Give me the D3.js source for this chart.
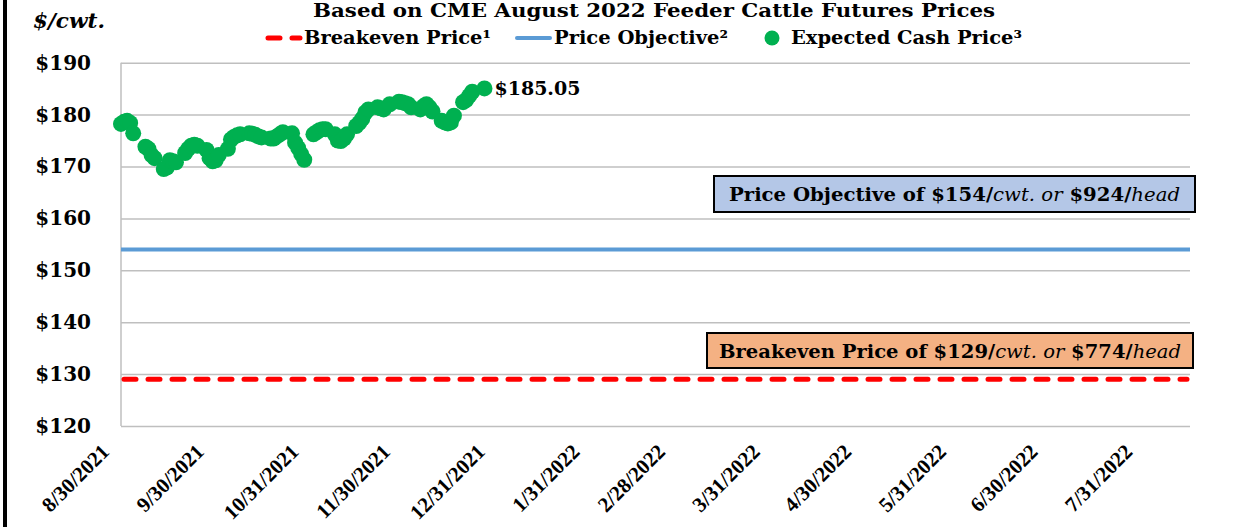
<!DOCTYPE html>
<html lang="en">
<head>
<meta charset="UTF-8">
<title>Feeder Cattle Price Chart</title>
<script src="https://d3js.org/d3.v7.min.js"></script>
<style>
  body { margin: 0; background: #fff; }
  svg { display: block; }
  text { font-family: "DejaVu Serif", serif; fill: #000; }
</style>
</head>
<body>
<div id="chart"></div>
<script>
// expected cash price, $/cwt, per trading day
const dates = [
  "2021-08-30","2021-08-31","2021-09-01","2021-09-02","2021-09-03",
  "2021-09-07","2021-09-08","2021-09-09","2021-09-10",
  "2021-09-13","2021-09-14","2021-09-15","2021-09-16","2021-09-17",
  "2021-09-20","2021-09-21","2021-09-22","2021-09-23","2021-09-24",
  "2021-09-27","2021-09-28","2021-09-29","2021-09-30","2021-10-01",
  "2021-10-04","2021-10-05","2021-10-06","2021-10-07","2021-10-08",
  "2021-10-11","2021-10-12","2021-10-13","2021-10-14","2021-10-15",
  "2021-10-18","2021-10-19","2021-10-20","2021-10-21","2021-10-22",
  "2021-10-25","2021-10-26","2021-10-27","2021-10-28","2021-10-29",
  "2021-11-01","2021-11-02","2021-11-03","2021-11-04","2021-11-05",
  "2021-11-08","2021-11-09","2021-11-10","2021-11-11","2021-11-12",
  "2021-11-15","2021-11-16","2021-11-17","2021-11-18","2021-11-19",
  "2021-11-22","2021-11-23","2021-11-24","2021-11-26",
  "2021-11-29","2021-11-30","2021-12-01","2021-12-02","2021-12-03",
  "2021-12-06","2021-12-07","2021-12-08","2021-12-09","2021-12-10",
  "2021-12-13","2021-12-14","2021-12-15","2021-12-16","2021-12-17",
  "2021-12-20","2021-12-21","2021-12-22","2021-12-23",
  "2021-12-27"
];
const cashPrice = [
  178.2, 178.6, 178.8, 178.4, 176.4,
  173.8, 173.4, 172.2, 171.6,
  169.5, 169.8, 171.2, 171.0, 170.8,
  172.6, 173.4, 174.0, 174.2, 174.0,
  173.2, 171.6, 171.0, 171.2, 172.2,
  173.4, 175.2, 175.7, 176.0, 176.2,
  176.4, 176.3, 176.1, 175.8, 175.6,
  175.4, 175.4, 175.8, 176.2, 176.6,
  176.4, 174.6, 173.6, 172.4, 171.3,
  176.2, 176.6, 177.0, 177.2, 177.2,
  176.2, 175.0, 174.9, 175.4, 176.2,
  177.8, 178.4, 179.2, 180.4, 181.0,
  181.4, 181.2, 181.0, 182.0,
  182.5, 182.4, 182.2, 182.0, 181.4,
  181.0, 181.6, 182.0, 181.4, 180.6,
  178.8, 178.5, 178.3, 178.5, 179.8,
  182.4, 182.8, 183.6, 184.4,
  185.05
];
const breakevenPrice = 129;
const priceObjective = 154;
const yTicks = [120, 130, 140, 150, 160, 170, 180, 190];
const xTickDates = [
  "2021-08-30","2021-09-30","2021-10-31","2021-11-30","2021-12-31",
  "2022-01-31","2022-02-28","2022-03-31","2022-04-30","2022-05-31",
  "2022-06-30","2022-07-31"
];
const xDomain = ["2021-08-30", "2022-08-15"];

const W = 1243, H = 527;
const plotL = 121, plotR = 1190, plotT = 62.7, plotB = 426;

const parse = d3.timeParse("%Y-%m-%d");
const fmt = d3.timeFormat("%-m/%-d/%Y");
const data = dates.map((d, i) => ({ date: parse(d), value: cashPrice[i] }));

const svg = d3.select("#chart").append("svg")
  .attr("width", W).attr("height", H);

const x = d3.scaleTime().domain(xDomain.map(parse)).range([plotL, plotR]);
const y = d3.scaleLinear().domain([120, 190]).range([plotB, plotT]);

// fit a text element to a measured width
function fit(sel, w) {
  sel.attr("textLength", w).attr("lengthAdjust", "spacingAndGlyphs");
}

// frame edge on the left
svg.append("rect").attr("x", 3).attr("y", 0).attr("width", 4).attr("height", H).attr("fill", "#000");

// y axis + grid
const yAxis = svg.append("g")
  .attr("transform", `translate(${plotL},0)`)
  .call(d3.axisLeft(y).tickValues(yTicks).tickSize(-(plotR - plotL)).tickPadding(30).tickFormat(d => "$" + d));
yAxis.select(".domain").remove();
yAxis.selectAll("line").attr("stroke", "#bfbfbf").attr("stroke-width", 1.5);
yAxis.selectAll("text")
  .style("font-family", "DejaVu Serif").style("font-weight", "bold").style("font-size", "20px");

svg.append("line")
  .attr("x1", plotL).attr("x2", plotL).attr("y1", plotT).attr("y2", plotB)
  .attr("stroke", "#bfbfbf").attr("stroke-width", 1.5);

// x axis labels
const xAxis = svg.append("g")
  .attr("transform", `translate(0,${plotB})`)
  .call(d3.axisBottom(x).tickValues(xTickDates.map(parse)).tickSize(0).tickFormat(fmt));
xAxis.select(".domain").remove();
xAxis.selectAll("text")
  .attr("x", 0).attr("y", 0).attr("dy", 0)
  .attr("transform", "translate(-11,27) rotate(-45)")
  .style("text-anchor", "end")
  .style("font-family", "Liberation Serif").style("font-weight", "bold").style("font-size", "21px");

// breakeven + objective lines
svg.append("line")
  .attr("x1", plotL).attr("x2", plotR).attr("y1", y(priceObjective)).attr("y2", y(priceObjective))
  .attr("stroke", "#5b9bd5").attr("stroke-width", 4);
svg.append("line")
  .attr("x1", plotL + 3).attr("x2", plotR - 3).attr("y1", y(breakevenPrice)).attr("y2", y(breakevenPrice))
  .attr("stroke", "#ff0000").attr("stroke-width", 5)
  .attr("stroke-linecap", "round").attr("stroke-dasharray", "12,12");

// cash price dots
svg.append("g").selectAll("circle").data(data).join("circle")
  .attr("cx", d => x(d.date)).attr("cy", d => y(d.value))
  .attr("r", 8).attr("fill", "#00b050");

const last = data[data.length - 1];
svg.append("text")
  .attr("x", x(last.date) + 10).attr("y", y(last.value) + 7)
  .style("font-weight", "bold").style("font-size", "19px")
  .text("$" + last.value.toFixed(2))
  .call(fit, 86);

// title, unit, legend
svg.append("text")
  .attr("x", 313).attr("y", 17)
  .style("font-weight", "bold").style("font-size", "18px")
  .text("Based on CME August 2022 Feeder Cattle Futures Prices")
  .call(fit, 682);

svg.append("text")
  .attr("x", 33).attr("y", 28)
  .style("font-weight", "bold").style("font-style", "italic").style("font-size", "20px")
  .text("$/cwt.")
  .call(fit, 72);

const ly = 38;
svg.append("line").attr("x1", 268).attr("x2", 300).attr("y1", ly).attr("y2", ly)
  .attr("stroke", "#ff0000").attr("stroke-width", 5)
  .attr("stroke-linecap", "round").attr("stroke-dasharray", "12,12");
svg.append("text").attr("x", 304).attr("y", ly + 6)
  .style("font-weight", "bold").style("font-size", "19px")
  .text("Breakeven Price\u00b9").call(fit, 187);

svg.append("line").attr("x1", 517).attr("x2", 550).attr("y1", ly).attr("y2", ly)
  .attr("stroke", "#5b9bd5").attr("stroke-width", 4).attr("stroke-linecap", "round");
svg.append("text").attr("x", 554).attr("y", ly + 6)
  .style("font-weight", "bold").style("font-size", "19px")
  .text("Price Objective\u00b2").call(fit, 174);

svg.append("circle").attr("cx", 772).attr("cy", ly).attr("r", 7.5).attr("fill", "#00b050");
svg.append("text").attr("x", 791).attr("y", ly + 6)
  .style("font-weight", "bold").style("font-size", "19px")
  .text("Expected Cash Price\u00b3").call(fit, 231);

// note boxes
function noteBox(x0, y0, w, h, fill, parts, tw) {
  svg.append("rect").attr("x", x0).attr("y", y0).attr("width", w).attr("height", h)
    .attr("fill", fill).attr("stroke", "#000").attr("stroke-width", 2);
  const t = svg.append("text")
    .attr("x", x0 + w / 2).attr("y", y0 + h / 2 + 7)
    .style("text-anchor", "middle").style("font-size", "19px");
  parts.forEach(([s, it]) => {
    t.append("tspan").text(s)
      .style("font-weight", it ? "normal" : "bold")
      .style("font-style", it ? "italic" : "normal");
  });
  t.call(fit, tw);
}

noteBox(714, 176, 481, 36, "#b4c7e7", [
  ["Price Objective of $" + priceObjective + "/", false], ["cwt. or", true],
  [" $924/", false], ["head", true]
], 451);

noteBox(707, 333, 486, 35, "#f4b183", [
  ["Breakeven Price of $" + breakevenPrice + "/", false], ["cwt. or", true],
  [" $774/", false], ["head", true]
], 462);
</script>
</body>
</html>
